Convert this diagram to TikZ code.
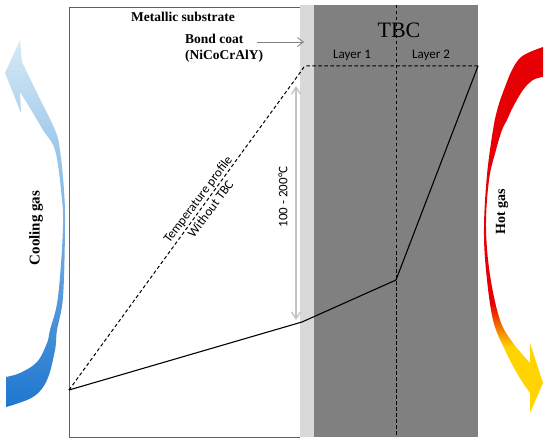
\documentclass[tikz,border=0pt]{standalone}
\usepackage{fontspec}
\setmainfont{Liberation Serif}
\newfontfamily\calfont{Carlito}
\usetikzlibrary{arrows.meta}
\definecolor{bondgray}{HTML}{D9D9D9}
\definecolor{tbcgray}{HTML}{808080}
\definecolor{framegray}{HTML}{606060}
\definecolor{arrowgray}{HTML}{808080}
\definecolor{rangegray}{HTML}{C4C4C4}
\definecolor{coollight}{HTML}{D6EAF6}
\definecolor{coolmid}{HTML}{8EC2EA}
\definecolor{cooldark}{HTML}{1E77CF}
\definecolor{hotyellow}{HTML}{FFD400}
\definecolor{hotorange}{HTML}{F26A00}
\definecolor{hotred}{HTML}{E60005}
\pgfdeclareverticalshading{hotgas}{100bp}{color(0bp)=(hotyellow); color(25bp)=(hotyellow); color(34bp)=(hotyellow); color(37bp)=(hotorange); color(40bp)=(hotred); color(75bp)=(hotred); color(100bp)=(hotred)}
\tikzset{
  boldlabel/.style={font=\bfseries\fontsize{13.5}{16}\selectfont, inner sep=0pt},
  callabel/.style={font=\calfont\fontsize{13}{16}\selectfont, inner sep=0pt},
  profdash/.style={line width=1pt, dash pattern=on 3.5pt off 2.5pt},
  profsolid/.style={line width=1.1pt},
}
\begin{document}
\begin{tikzpicture}[x=1pt,y=-1pt]
\useasboundingbox (0,0) rectangle (550,444);
% layers
\fill[bondgray] (300,5) rectangle (314,437);
\fill[tbcgray] (314,5) rectangle (478,437);
\draw[framegray, line width=0.8pt] (300,7) -- (69,7) -- (69,437) -- (300,437);
% cooling gas arrow
\shade[top color=coollight, middle color=coolmid, bottom color=cooldark]
  plot[smooth, tension=0.6] coordinates {(22,62) (38,95) (55,130) (60,150) (64,190) (65,227) (63,297) (57,330) (55,350) (47,380) (33,397) (6,407)}
  -- (6,377)
  -- plot[smooth, tension=0.6] coordinates {(6,377) (20,373) (37,362) (47,343) (50,330) (58,297) (63,227) (61,190) (55,150) (43,130) (30,108) (20,92)}
  -- (21,113) -- (5,73) -- (20,40) -- cycle;
% hot gas arrow
\shade[shading=hotgas]
  plot[smooth, tension=0.6] coordinates {(543,47) (530,52) (520,58) (512,70) (505,87) (498,107) (493,130) (487,175) (484,227) (486,270) (493,320) (505,350) (518,375) (530,393)}
  -- (530,413) -- (543,383) -- (530,343) -- (530,363)
  -- plot[smooth, tension=0.6] coordinates {(530,363) (513,343) (500,320) (490,275) (486,227) (489,180) (496,150) (502,130) (507,120) (513,107) (523,90) (533,80) (543,77)}
  -- cycle;
% coordinates
\coordinate (base) at (69,390);
\coordinate (bcknee) at (302,322);
\coordinate (ifknee) at (396,280);
\coordinate (hotend) at (478,66);
\coordinate (dashknee) at (302,70);
\coordinate (dashtop) at (396,5);
\coordinate (dashbot) at (396,437);
\coordinate (rangetop) at (296,86);
\coordinate (rangebot) at (296,320);
\coordinate (bctip) at (304,42);
% profiles
\draw[profdash] (dashtop) -- (dashbot);
\draw[profdash] (base) -- (dashknee) to[out=54,in=180] (306,66) -- (hotend);
\draw[profsolid] (base) -- (bcknee) -- (ifknee) -- (hotend);
% range arrow
\draw[rangegray, line width=1.3pt, {Straight Barb[length=7pt,width=9pt]}-{Straight Barb[length=7pt,width=9pt]}] (rangetop) -- (rangebot);
% labels
\node[boldlabel] (ms) at (183,17) {Metallic substrate};
\node[boldlabel, align=left, anchor=west] (bc) at (185,48) {Bond coat\\(NiCoCrAlY)};
\draw[arrowgray, line width=0.8pt, -{Straight Barb[length=6pt,width=9pt]}] (257,42) -- (bctip);
\node[font=\fontsize{22}{24}\selectfont, inner sep=0pt] (tbc) at (399,30) {TBC};
\node[callabel] (l1) at (352,55) {Layer 1};
\node[callabel] (l2) at (431,55) {Layer 2};
\node[callabel, rotate=90] (range) at (283,197) {100 - 200°C};
\node[callabel, rotate=53, align=center] (tp) at (204,204) {Temperature profile\\Without TBC};
\node[boldlabel, font=\bfseries\fontsize{15}{17}\selectfont, rotate=90] (cool) at (36,228) {Cooling gas};
\node[boldlabel, font=\bfseries\fontsize{14}{16}\selectfont, rotate=90] (hot) at (502,212) {Hot gas};
\end{tikzpicture}
\end{document}
